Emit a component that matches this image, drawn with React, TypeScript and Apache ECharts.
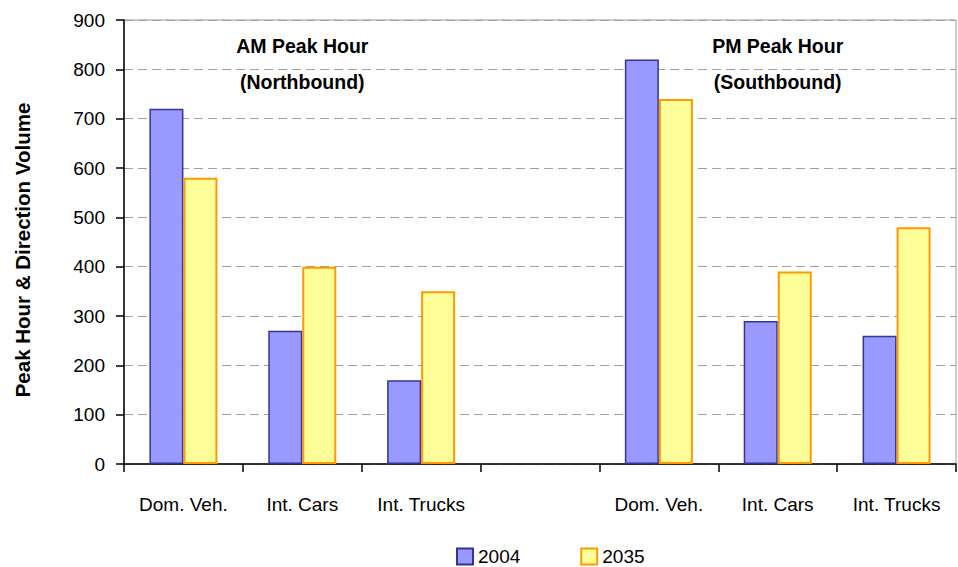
import React, { useEffect, useRef } from "react";
import * as echarts from "echarts";

const categories = ["Dom. Veh.", "Int. Cars", "Int. Trucks", "", "Dom. Veh.", "Int. Cars", "Int. Trucks"];
const values2004 = [720, 270, 170, null, 820, 290, 260];
const values2035 = [580, 400, 350, null, 740, 390, 480];
const yTicks = { min: 0, max: 900, interval: 100 };
const seriesNames = ["2004", "2035"];
const annotations = [
  { category: 1, value: 810, text: "AM Peak Hour\n(Northbound)" },
  { category: 5, value: 810, text: "PM Peak Hour\n(Southbound)" },
];

const FONT = "'Liberation Sans', Arial, sans-serif";

export default function App() {
  const ref = useRef<HTMLDivElement>(null);
  useEffect(() => {
    if (!ref.current) return;
    const chart = echarts.init(ref.current, undefined, { renderer: "svg" });
    chart.setOption({
      animation: false,
      textStyle: { fontFamily: FONT, color: "#000" },
      grid: {
        left: 124,
        right: 2,
        top: 20,
        bottom: 103,
        show: true,
        borderColor: "#9a9a9a",
        borderWidth: 1,
        backgroundColor: "transparent",
      },
      legend: {
        left: 456,
        top: 547,
        padding: 0,
        icon: "rect",
        itemWidth: 16,
        itemHeight: 16,
        itemGap: 60,
        textStyle: { fontFamily: FONT, fontSize: 19, color: "#000", padding: [0, 0, 0, 0] },
        data: seriesNames,
      },
      xAxis: {
        type: "category",
        data: categories,
        axisLine: { lineStyle: { color: "#000", width: 1.5 } },
        axisTick: { show: true, length: 8, lineStyle: { color: "#000", width: 1.5 } },
        axisLabel: { fontFamily: FONT, fontSize: 19, color: "#000", margin: 31, interval: 0 },
        splitLine: { show: false },
      },
      yAxis: {
        type: "value",
        min: yTicks.min,
        max: yTicks.max,
        interval: yTicks.interval,
        name: "Peak Hour & Direction Volume",
        nameLocation: "middle",
        nameGap: 91,
        nameTextStyle: {
          fontFamily: FONT,
          fontSize: 20.5,
          fontWeight: "bold",
          color: "#000",
          padding: [0, 16, 0, 0],
        },
        axisLine: { show: true, lineStyle: { color: "#000", width: 1.5 } },
        axisTick: { show: true, length: 8, lineStyle: { color: "#000", width: 1.5 } },
        axisLabel: { fontFamily: FONT, fontSize: 19, color: "#000", margin: 19 },
        splitLine: { show: true, lineStyle: { color: "#a0a0a0", type: [9, 5], width: 1 } },
      },
      series: [
        {
          name: seriesNames[0],
          type: "bar",
          data: values2004,
          barWidth: 34,
          barGap: "0%",
          itemStyle: { color: "#9999FF", borderColor: "#333399", borderWidth: 1.5 },
        },
        {
          name: seriesNames[1],
          type: "bar",
          data: values2035,
          barWidth: 34,
          barGap: "0%",
          itemStyle: { color: "#FFFF99", borderColor: "#FF9900", borderWidth: 2 },
        },
        {
          name: "annotations",
          type: "scatter",
          data: [],
          silent: true,
          markPoint: {
            symbol: "circle",
            symbolSize: 0,
            data: annotations.map((a) => ({
              coord: [a.category, a.value],
              value: a.text,
            })),
            label: {
              show: true,
              position: "inside",
              formatter: (p: any) => p.value,
              fontFamily: FONT,
              fontSize: 19.5,
              fontWeight: "bold",
              color: "#000",
              lineHeight: 36,
              align: "center",
            },
          },
        },
      ],
    });
    return () => chart.dispose();
  }, []);
  return (
    <div
      ref={ref}
      style={{ position: "fixed", left: 0, top: 0, width: 958, height: 567, background: "#fff" }}
    />
  );
}
